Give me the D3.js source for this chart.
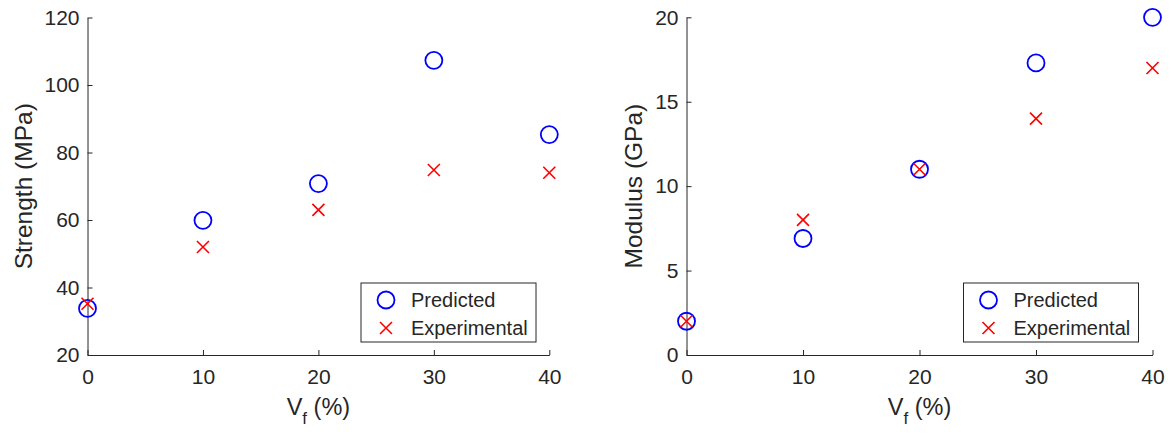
<!DOCTYPE html>
<html>
<head>
<meta charset="utf-8">
<script src="https://cdn.jsdelivr.net/npm/d3@7"></script>
<style>
    body { margin: 0; background: #fff; }
    text { font-family: "Liberation Sans", Arial, sans-serif; fill: #262626; }
    .axis path, .axis line { stroke: #262626; stroke-width: 1; }
    .axis text { font-size: 21px; fill: #262626; }
</style>
</head>
<body>
<div id="chart"></div>
<script>
const vf = [0, 10, 20, 30, 40]
const xTicks = [0, 10, 20, 30, 40]

const strengthPredicted = [33.8, 59.9, 70.8, 107.3, 85.3]
const strengthExperimental = [35.2, 52, 63, 74.8, 74]
const strengthTicks = [20, 40, 60, 80, 100, 120]

const modulusPredicted = [2, 6.9, 11, 17.3, 20]
const modulusExperimental = [2, 8, 11, 14, 17]
const modulusTicks = [0, 5, 10, 15, 20]

const svg = d3.select('#chart').append('svg')
    .attr('width', 1170)
    .attr('height', 433)

drawPanel({
    left: 87.5, right: 549.3, top: 17.5, bottom: 355,
    yDomain: [20, 120], yTicks: strengthTicks,
    predicted: strengthPredicted, experimental: strengthExperimental,
    yLabel: 'Strength (MPa)', yLabelX: 23,
    legendX: 361, legendY: 283
})
drawPanel({
    left: 686.5, right: 1152.5, top: 17.3, bottom: 355,
    yDomain: [0, 20], yTicks: modulusTicks,
    predicted: modulusPredicted, experimental: modulusExperimental,
    yLabel: 'Modulus (GPa)', yLabelX: 633,
    legendX: 963.5, legendY: 283
})

function drawCross(g, cx, cy, s){
    g.append('path')
    .attr('d', `M${cx - s},${cy - s}L${cx + s},${cy + s}M${cx - s},${cy + s}L${cx + s},${cy - s}`)
    .attr('stroke', '#ff0000')
    .attr('stroke-width', 1.6)
    .attr('fill', 'none')
}

function drawPanel(p){
    const xScale = d3.scaleLinear()
    .domain([0, 40])
    .range([p.left, p.right])

    const yScale = d3.scaleLinear()
    .domain(p.yDomain)
    .range([p.bottom, p.top])

    //Axes (ticks pointing inward)
    svg.append('g')
    .attr('class', 'axis')
    .attr('transform', `translate(0,${p.bottom})`)
    .call(d3.axisBottom(xScale).tickValues(xTicks).tickSizeInner(-5).tickSizeOuter(0).tickPadding(14))
    .call(g => g.selectAll('.tick text').attr('dy', '0.71em'))

    svg.append('g')
    .attr('class', 'axis')
    .attr('transform', `translate(${p.left},0)`)
    .call(d3.axisLeft(yScale).tickValues(p.yTicks).tickSizeInner(-5).tickSizeOuter(0).tickPadding(8))

    //y Axis Title
    svg.append('text')
    .attr('transform', `translate(${p.yLabelX},${(p.top + p.bottom) / 2}) rotate(-90)`)
    .attr('text-anchor', 'middle')
    .attr('dy', '0.35em')
    .style('font-size', '24.5px')
    .text(p.yLabel)

    //x Axis Title: V_f (%)
    const xt = svg.append('text')
    .attr('x', (p.left + p.right) / 2)
    .attr('y', 415)
    .attr('text-anchor', 'middle')
    .style('font-size', '23.5px')
    xt.append('tspan').text('V')
    xt.append('tspan').attr('dy', 9).style('font-size', '17px').text('f')
    xt.append('tspan').attr('dy', -9).text(' (%)')

    //Markers
    const pts = svg.append('g')
    pts.selectAll('circle')
    .data(p.predicted)
    .enter()
        .append('circle')
        .attr('cx', (d, i) => xScale(vf[i]))
        .attr('cy', d => yScale(d))
        .attr('r', 8.5)
        .attr('fill', 'none')
        .attr('stroke', '#0000ff')
        .attr('stroke-width', 1.8)
    p.experimental.forEach((d, i) => drawCross(pts, xScale(vf[i]), yScale(d), 6))

    //Legend
    const legend = svg.append('g')
    .attr('transform', `translate(${p.legendX},${p.legendY})`)
    legend.append('rect')
    .attr('width', 175)
    .attr('height', 59)
    .attr('fill', '#fff')
    .attr('stroke', '#262626')
    .attr('stroke-width', 1)
    legend.append('circle')
    .attr('cx', 25)
    .attr('cy', 17)
    .attr('r', 8.5)
    .attr('fill', 'none')
    .attr('stroke', '#0000ff')
    .attr('stroke-width', 1.8)
    drawCross(legend, 25, 45, 6)
    legend.append('text')
    .attr('x', 50)
    .attr('y', 17)
    .attr('dy', '0.35em')
    .style('font-size', '20px')
    .text('Predicted')
    legend.append('text')
    .attr('x', 50)
    .attr('y', 45)
    .attr('dy', '0.35em')
    .style('font-size', '20px')
    .text('Experimental')
}
</script>
</body>
</html>
